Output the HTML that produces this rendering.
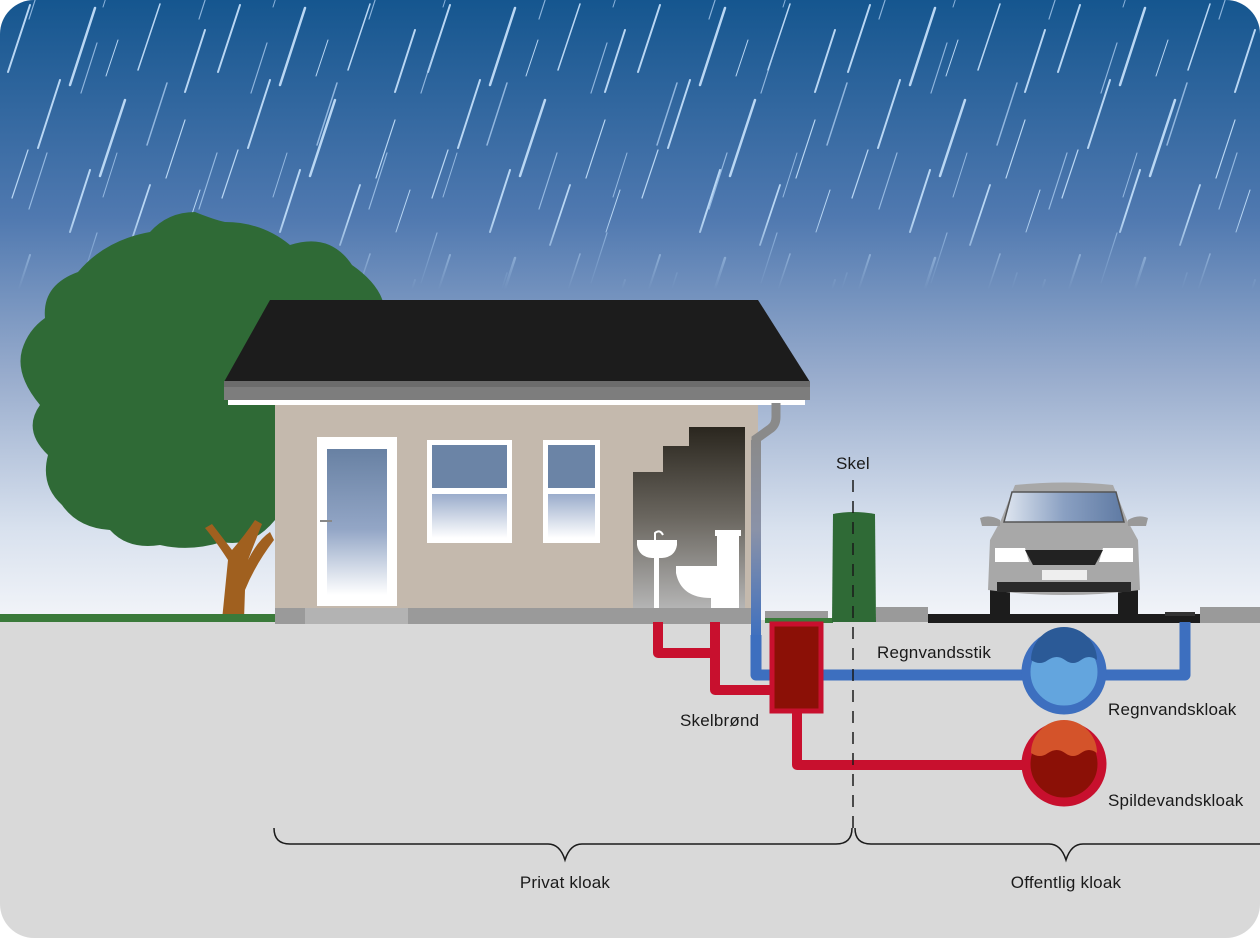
<!DOCTYPE html>
<html><head><meta charset="utf-8"><style>
html,body{margin:0;padding:0;background:#fff}
svg{display:block}
text{font-family:"Liberation Sans",sans-serif;font-size:17px;letter-spacing:0.2px;fill:#1a1a1a}
</style></head><body>
<svg width="1260" height="938" viewBox="0 0 1260 938" xmlns="http://www.w3.org/2000/svg">
<defs>
<clipPath id="clip"><rect x="0" y="0" width="1260" height="938" rx="34"/></clipPath>
<linearGradient id="sky" x1="0" y1="0" x2="0" y2="1">
<stop offset="0" stop-color="#15568f"/><stop offset="0.35" stop-color="#5079b0"/>
<stop offset="0.6" stop-color="#97abcc"/><stop offset="0.85" stop-color="#d8e1ee"/><stop offset="1" stop-color="#f3f5f9"/>
</linearGradient>
<linearGradient id="glass" x1="0" y1="0" x2="0" y2="1"><stop offset="0" stop-color="#6881a3"/><stop offset="0.55" stop-color="#93a6c6"/><stop offset="1" stop-color="#ffffff"/></linearGradient>
<linearGradient id="glass2" x1="0" y1="0" x2="0" y2="1"><stop offset="0" stop-color="#9aaccb"/><stop offset="1" stop-color="#ffffff"/></linearGradient>
<linearGradient id="bath" x1="0" y1="0" x2="0" y2="1"><stop offset="0" stop-color="#2a261e"/><stop offset="0.5" stop-color="#6a665f"/><stop offset="1" stop-color="#b4b4b4"/></linearGradient>
<linearGradient id="dpipe" x1="0" y1="0" x2="0" y2="1"><stop offset="0" stop-color="#8a8a8a"/><stop offset="0.45" stop-color="#8a92a8"/><stop offset="1" stop-color="#3d6fbf"/></linearGradient>
<linearGradient id="wind" x1="0" y1="0" x2="1" y2="0"><stop offset="0" stop-color="#dfe6f0"/><stop offset="0.5" stop-color="#8aa0c2"/><stop offset="1" stop-color="#5f7aa3"/></linearGradient>
<linearGradient id="rainfade" x1="0" y1="0" x2="0" y2="1"><stop offset="0" stop-color="#fff"/><stop offset="0.75" stop-color="#fff"/><stop offset="1" stop-color="#fff" stop-opacity="0"/></linearGradient>
<mask id="rm"><rect x="0" y="0" width="1260" height="290" fill="url(#rainfade)"/></mask>
<pattern id="rain" width="210" height="250" patternUnits="userSpaceOnUse">
<g stroke="#b9d7f4" stroke-linecap="round">
<line x1="30" y1="5" x2="8" y2="72" stroke-width="2"/>
<line x1="95" y1="8" x2="70" y2="85" stroke-width="2.5"/>
<line x1="160" y1="4" x2="138" y2="70" stroke-width="1.5"/>
<line x1="205" y1="30" x2="185" y2="92" stroke-width="2"/>
<line x1="60" y1="80" x2="38" y2="148" stroke-width="2"/>
<line x1="125" y1="100" x2="100" y2="176" stroke-width="2.5"/>
<line x1="185" y1="120" x2="166" y2="178" stroke-width="1.2"/>
<line x1="28" y1="150" x2="12" y2="198" stroke-width="1.2"/>
<line x1="90" y1="170" x2="70" y2="232" stroke-width="2"/>
<line x1="150" y1="185" x2="130" y2="245" stroke-width="1.8"/>
<line x1="200" y1="190" x2="186" y2="232" stroke-width="1"/>
<line x1="118" y1="40" x2="106" y2="76" stroke-width="1"/>
</g>
</pattern>
<pattern id="rain2" width="170" height="190" patternUnits="userSpaceOnUse" patternTransform="translate(57,33)">
<g stroke="#a9cbef" stroke-linecap="round" opacity="0.8">
<line x1="40" y1="10" x2="24" y2="60" stroke-width="1.2"/>
<line x1="110" y1="50" x2="90" y2="112" stroke-width="1.5"/>
<line x1="160" y1="120" x2="142" y2="176" stroke-width="1.2"/>
<line x1="60" y1="120" x2="46" y2="164" stroke-width="1"/>
</g>
</pattern>
</defs>
<g clip-path="url(#clip)">
<rect width="1260" height="622" fill="url(#sky)"/>
<rect width="1260" height="290" fill="url(#rain)" mask="url(#rm)"/>
<rect width="1260" height="290" fill="url(#rain2)" mask="url(#rm)"/>
<rect y="620" width="1260" height="318" fill="#d9d9d9"/>

<!-- tree -->
<path d="M150 232 Q168 212 195 212 Q215 220 225 222 Q262 222 290 245 Q330 232 352 265 Q388 290 385 320 L275 400 L275 520 Q252 548 222 542 Q190 552 160 545 Q128 550 110 530 Q78 528 62 505 Q40 485 48 455 Q22 430 40 405 Q15 375 22 350 Q28 330 45 318 Q42 285 78 272 Q105 240 150 232Z" fill="#2f6a36"/>
<path d="M222 620 L228 560 Q215 540 205 528 L212 524 L232 550 Q245 535 255 520 L262 524 L248 560 Q258 540 270 532 L274 540 Q255 565 245 590 L244 620Z" fill="#a0601f"/>
<rect x="0" y="614" width="276" height="8" fill="#3a7a3a"/>

<!-- house -->
<polygon points="270,300 758,300 810,382 224,382" fill="#1c1c1c"/>
<rect x="224" y="381" width="586" height="19" fill="#7d7d7d"/>
<rect x="224" y="381" width="586" height="6" fill="#6c6c6c"/>
<rect x="228" y="400" width="577" height="5" fill="#fff"/>
<rect x="275" y="405" width="483" height="204" fill="#c4b9ad"/>
<rect x="317" y="437" width="80" height="169" fill="#fff"/>
<rect x="327" y="449" width="60" height="146" fill="url(#glass)"/>
<rect x="320" y="520" width="12" height="2" fill="#888"/>
<rect x="427" y="440" width="85" height="103" fill="#fff"/>
<rect x="432" y="445" width="75" height="43" fill="#6b84a6"/>
<rect x="432" y="494" width="75" height="44" fill="url(#glass2)"/>
<rect x="543" y="440" width="57" height="103" fill="#fff"/>
<rect x="548" y="445" width="47" height="43" fill="#6b84a6"/>
<rect x="548" y="494" width="47" height="44" fill="url(#glass2)"/>
<polygon points="633,608 633,472 663,472 663,446 689,446 689,427 745,427 745,608" fill="url(#bath)"/>
<path d="M637 540 h40 v5 q-2 12 -15 13 h-10 q-13 -1 -15 -13z" fill="#fff"/>
<rect x="654" y="557" width="5" height="51" fill="#fff"/>
<path d="M655 540 v-7 q5 -4 8 2" stroke="#fff" stroke-width="2" fill="none"/>
<rect x="715" y="530" width="26" height="6" fill="#fff"/>
<rect x="717" y="536" width="22" height="30" fill="#fff"/>
<path d="M676 566 h63 v42 h-28 v-10 q-30 0 -35 -25z" fill="#fff"/>
<rect x="275" y="608" width="485" height="16" fill="#9a9a9a"/>
<rect x="305" y="608" width="103" height="16" fill="#b3b3b3"/>
<path d="M776 403 v14 q0 8 -6 12 l-14 10 v200" stroke="#8a8a8a" stroke-width="9" fill="none"/>
<rect x="751" y="440" width="10" height="200" fill="url(#dpipe)"/>

<!-- ground stuff -->
<rect x="765" y="611" width="63" height="8" fill="#9a9a9a"/>
<rect x="765" y="618" width="68" height="5" fill="#3a7a3a"/>
<rect x="876" y="607" width="52" height="15" fill="#9a9a9a"/>
<rect x="928" y="614" width="272" height="9" fill="#1c1c1c"/>
<rect x="1200" y="607" width="60" height="16" fill="#9a9a9a"/>
<rect x="1165" y="612" width="30" height="4" fill="#333"/>
<path d="M833 514 q20 -4 42 0 l1 108 h-44z" fill="#2f6a36"/>

<!-- car -->
<rect x="990" y="580" width="20" height="36" fill="#1c1c1c"/>
<rect x="1118" y="580" width="20" height="36" fill="#1c1c1c"/>
<path d="M1015 485 Q1064 480 1113 485 L1127 520 L1138 540 L1140 590 Q1064 600 988 590 L990 540 L1001 520Z" fill="#a8a8a8"/>
<path d="M1012 492 h104 l8 30 h-120z" fill="url(#wind)" stroke="#555" stroke-width="1.5"/>
<path d="M980 518 q10 -4 20 2 v6 h-18z M1148 518 q-10 -4 -20 2 v6 h18z" fill="#999"/>
<path d="M995 548 h30 l4 14 h-34z M1133 548 h-30 l-4 14 h34z" fill="#fff"/>
<path d="M1025 550 h78 l-8 15 h-62z" fill="#222"/>
<rect x="1042" y="570" width="45" height="10" fill="#eee"/>
<rect x="997" y="582" width="134" height="10" fill="#2a2a2a"/>

<!-- pipes -->
<g fill="none" stroke-linejoin="round">
<path d="M756 635 V675 H1185 V622" stroke="#3d6fbf" stroke-width="11"/>
<path d="M658 622 V653 H715 M715 622 V690 H775" stroke="#c8102e" stroke-width="10"/>
<path d="M797 712 V765 H1030" stroke="#c8102e" stroke-width="10"/>
</g>
<rect x="772" y="624" width="49" height="87" fill="#8b1006" stroke="#c8102e" stroke-width="5"/>

<!-- circles -->
<circle cx="1064" cy="672" r="38" fill="#63a5de" stroke="#3d6fbf" stroke-width="9"/>
<path d="M1031 660 a33 33 0 0 1 66 0 q-8 -6 -16 0 q-8 6 -16 0 q-8 -6 -17 0 q-8 6 -17 0z" fill="#2b5a97"/>
<circle cx="1064" cy="764" r="38" fill="#8b1006" stroke="#c8102e" stroke-width="9"/>
<path d="M1031 753 a33 33 0 0 1 66 0 q-8 -6 -16 0 q-8 6 -16 0 q-8 -6 -17 0 q-8 6 -17 0z" fill="#d4532a"/>

<!-- skel -->
<line x1="853" y1="480" x2="853" y2="832" stroke="#1a1a1a" stroke-width="1.5" stroke-dasharray="12,9"/>
<text x="836" y="469">Skel</text>
<text x="877" y="658">Regnvandsstik</text>
<text x="680" y="726">Skelbrønd</text>
<text x="1108" y="715">Regnvandskloak</text>
<text x="1108" y="806">Spildevandskloak</text>

<path d="M274 828 q0 16 16 16 H548 q12 0 17 16 q5 -16 17 -16 H836 q16 0 16 -16" fill="none" stroke="#1a1a1a" stroke-width="1.5"/>
<path d="M855 828 q0 16 16 16 H1049 q12 0 17 16 q5 -16 17 -16 H1262" fill="none" stroke="#1a1a1a" stroke-width="1.5"/>
<text x="565" y="888" text-anchor="middle">Privat kloak</text>
<text x="1066" y="888" text-anchor="middle">Offentlig kloak</text>
</g>
</svg>
</body></html>
